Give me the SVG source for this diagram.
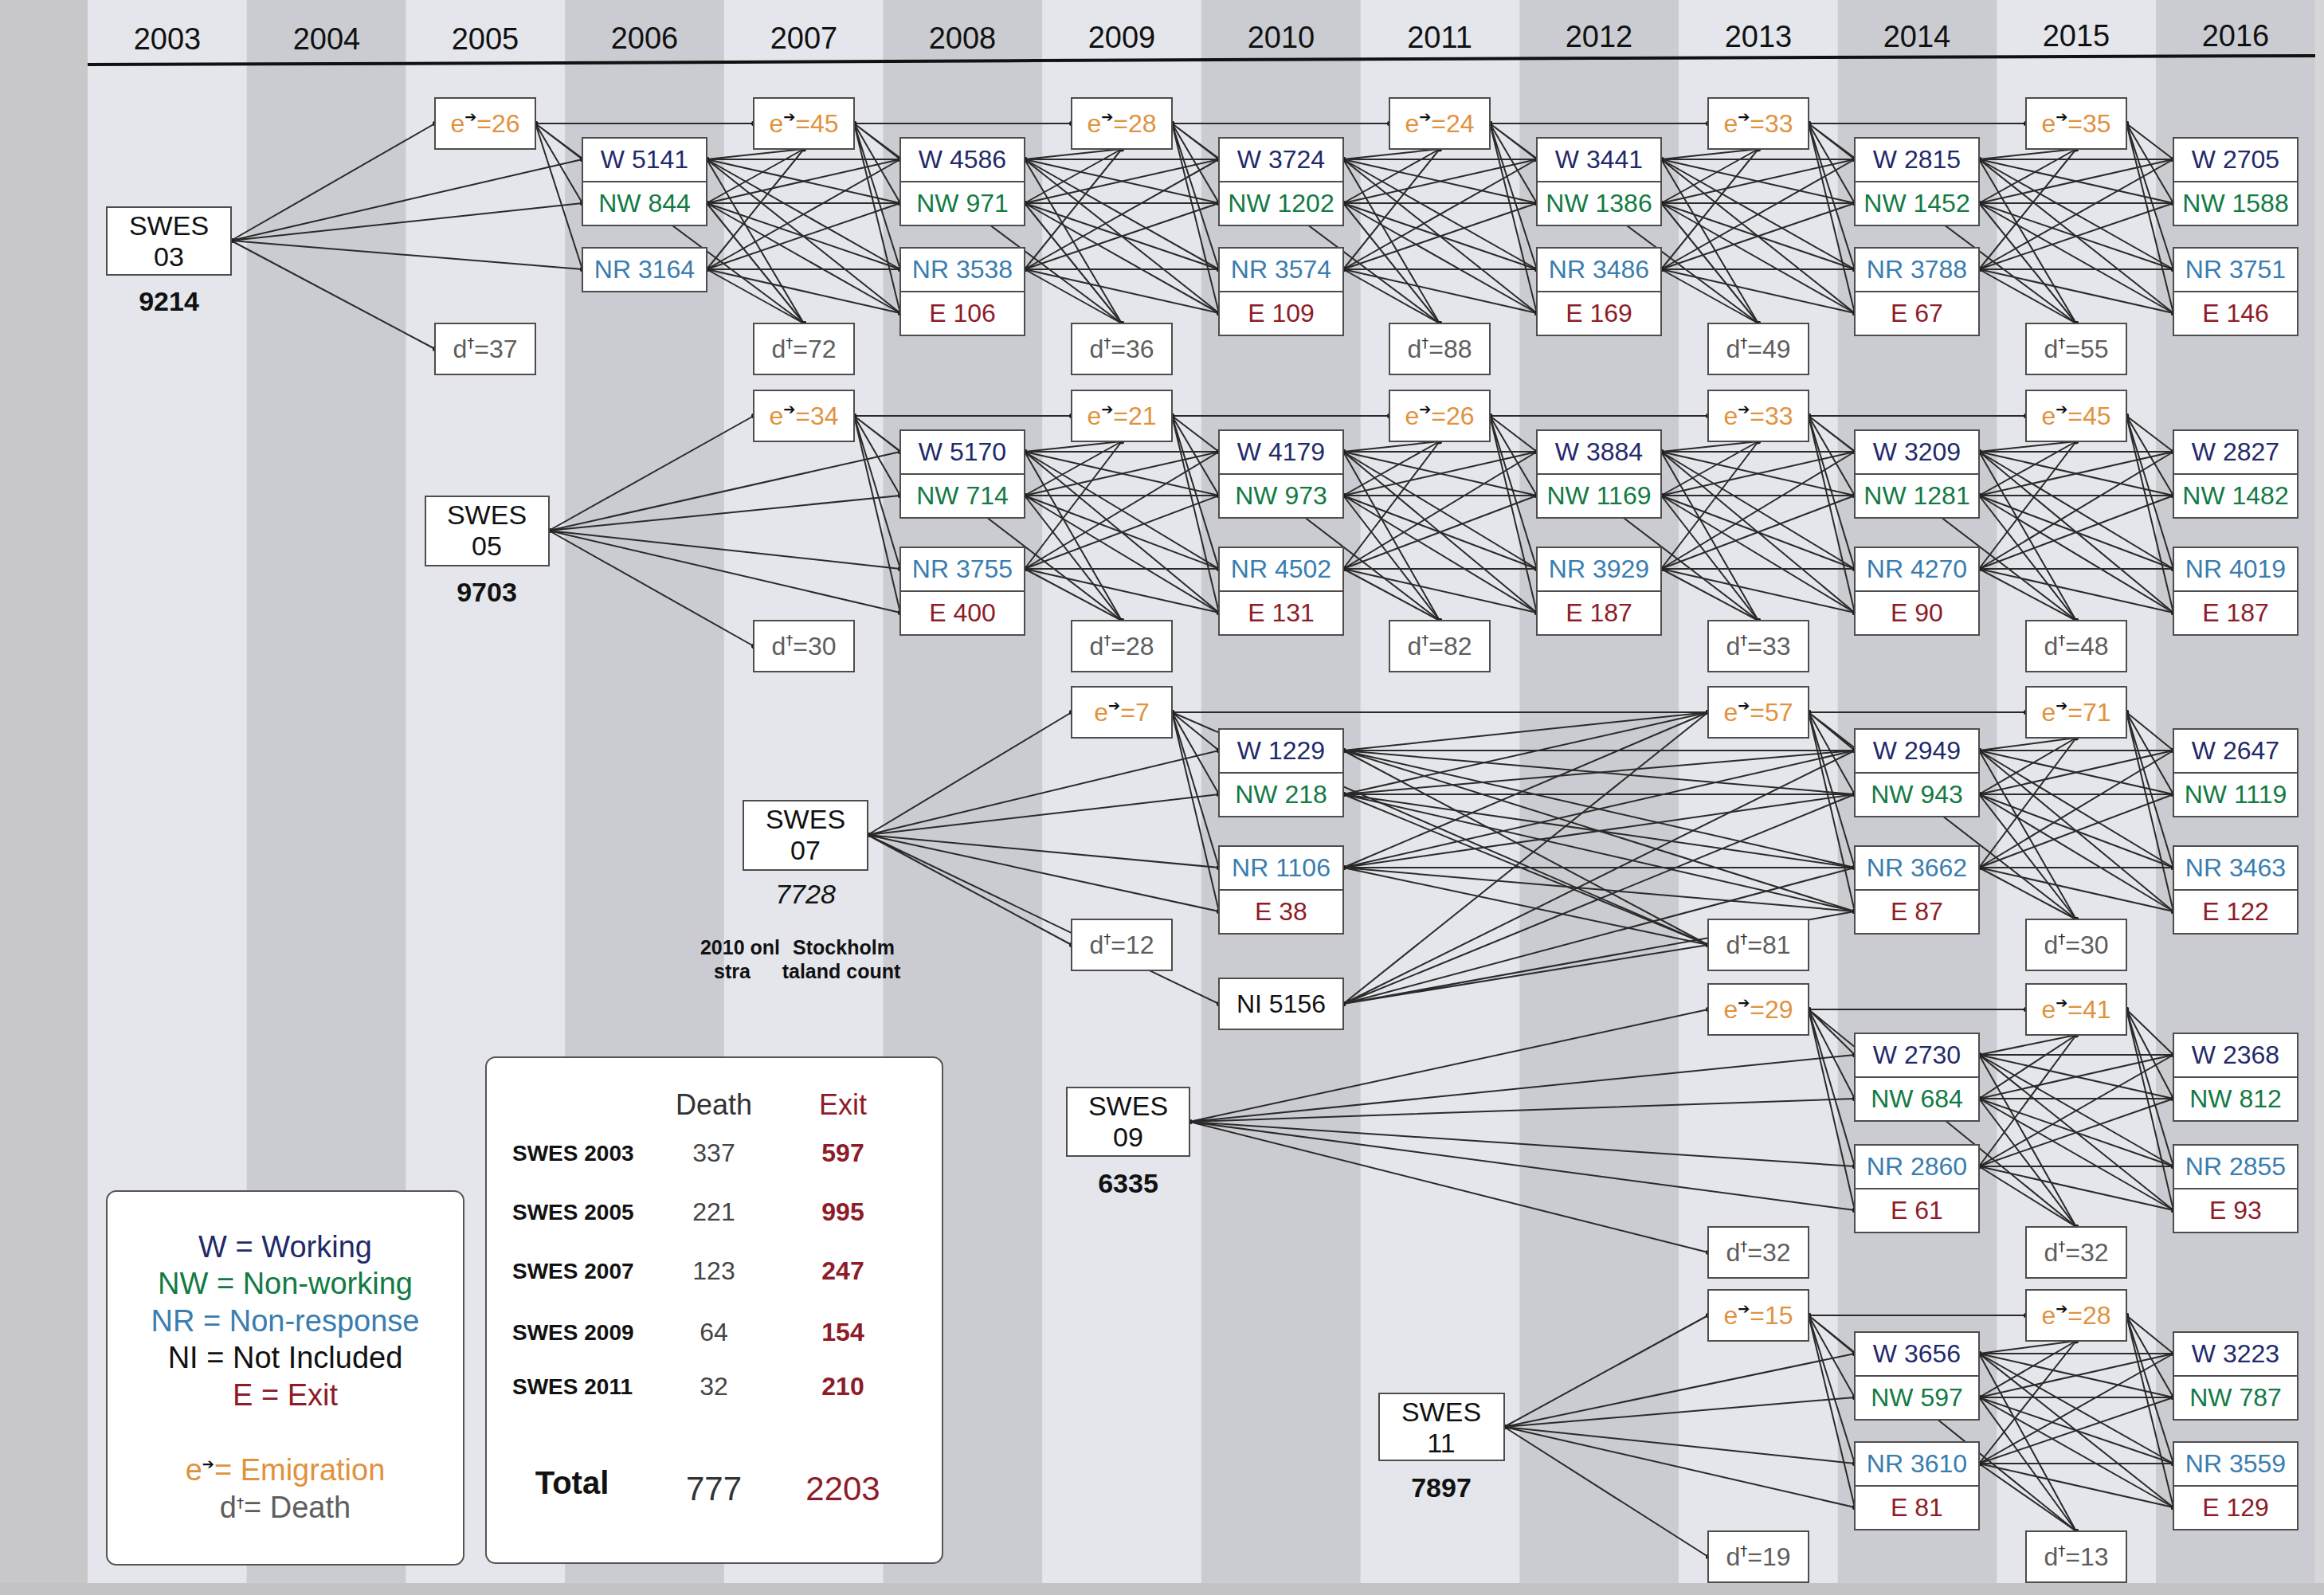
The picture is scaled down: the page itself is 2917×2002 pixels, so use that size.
<svg xmlns="http://www.w3.org/2000/svg" width="2917" height="2002" viewBox="0 0 2917 2002">
<defs>
<style>
.bgl{fill:#e4e6eb}.bgd{fill:#cbccd1}
.yr{font-family:"Liberation Sans",Arial,sans-serif;font-size:38px;fill:#111;text-anchor:middle}
.bx{fill:#fff;stroke:#4d4d4d;stroke-width:2}
.panel{fill:#fff;stroke:#555;stroke-width:2}
.t{font-family:"Liberation Sans",Arial,sans-serif;font-size:32px;text-anchor:middle}
.th{font-family:"Liberation Sans",Arial,sans-serif;font-size:36px;fill:#333;text-anchor:middle}
.tv{font-family:"Liberation Sans",Arial,sans-serif;font-size:42px;fill:#333;text-anchor:middle}
.w{fill:#1f2a6b}.nw{fill:#137a43}.nr{fill:#3a7db0}.ex{fill:#8e1c28}.em{fill:#e0923e}.de{fill:#5e5e5e}.ni{fill:#111}
.ar{font-family:"DejaVu Sans",sans-serif;font-size:18px;fill:#111}
.dg{font-family:"DejaVu Sans",sans-serif;font-size:18px;fill:#333}
.cn{fill:none;stroke:#2a2a2a;stroke-width:2;marker-start:url(#dot);marker-mid:url(#dot);marker-end:url(#dot)}
.sw{font-family:"Liberation Sans",Arial,sans-serif;font-size:34px;fill:#111;text-anchor:middle}
.sn{font-family:"Liberation Sans",Arial,sans-serif;font-size:34px;font-weight:bold;fill:#111;text-anchor:middle}
.note{font-family:"Liberation Sans",Arial,sans-serif;font-size:25px;font-weight:bold;fill:#111;text-anchor:middle}
.lg{font-family:"Liberation Sans",Arial,sans-serif;font-size:38px;text-anchor:middle}
.rl{font-family:"Liberation Sans",Arial,sans-serif;font-size:28px;font-weight:bold;fill:#111}
.dv{font-family:"Liberation Sans",Arial,sans-serif;font-size:32px;fill:#444;text-anchor:middle}
.xv{font-family:"Liberation Sans",Arial,sans-serif;font-size:32px;font-weight:bold;fill:#8e1c28;text-anchor:middle}
.tt{font-family:"Liberation Sans",Arial,sans-serif;font-size:40px;font-weight:bold;fill:#111;text-anchor:middle}
</style>
<marker id="dot" viewBox="0 0 10 10" refX="5" refY="5" markerWidth="7" markerHeight="7" markerUnits="userSpaceOnUse"><circle cx="5" cy="5" r="4.5" fill="#1e1e1e"/></marker>
</defs>

<g id="background">
<rect x="0" y="0" width="2917" height="2002" fill="#c8c8ca"/>
<rect class="bgl" x="110" y="0" width="2796" height="1987"/>
<rect class="bgd" x="309.7" y="0" width="199.7" height="1987"/>
<rect class="bgd" x="709.1" y="0" width="199.7" height="1987"/>
<rect class="bgd" x="1108.5" y="0" width="199.7" height="1987"/>
<rect class="bgd" x="1507.9" y="0" width="199.7" height="1987"/>
<rect class="bgd" x="1907.3" y="0" width="199.7" height="1987"/>
<rect class="bgd" x="2306.7" y="0" width="199.7" height="1987"/>
<rect class="bgd" x="2706.1" y="0" width="199.7" height="1987"/>
<rect x="2906" y="0" width="11" height="1987" fill="#d6d6d8"/>
</g>

<g id="header">
<text class="yr" x="210" y="62">2003</text>
<text class="yr" x="410" y="62">2004</text>
<text class="yr" x="609" y="62">2005</text>
<text class="yr" x="809" y="61">2006</text>
<text class="yr" x="1009" y="61">2007</text>
<text class="yr" x="1208" y="61">2008</text>
<text class="yr" x="1408" y="60">2009</text>
<text class="yr" x="1608" y="60">2010</text>
<text class="yr" x="1807" y="60">2011</text>
<text class="yr" x="2007" y="59">2012</text>
<text class="yr" x="2207" y="59">2013</text>
<text class="yr" x="2406" y="59">2014</text>
<text class="yr" x="2606" y="58">2015</text>
<text class="yr" x="2806" y="58">2016</text>
<polyline points="110,81 700,79 1300,76 2000,73 2906,70" fill="none" stroke="#111" stroke-width="4"/>
</g>

<g id="connectors">
<!-- cohort SWES 03 -->
<path class="cn" d="M290 302L546 155M290 302L731 200M290 302L731 255M290 302L731 338M290 302L546 438"/>
<path class="cn" d="M672 155L946 155M672 155L731 200M672 155L731 255M672 155L731 338M672 155L1009 406"/>
<path class="cn" d="M887 200L1009 187M887 200L1009 406M887 200L1130 200M887 200L1130 255M887 200L1130 338M887 200L1130 393"/>
<path class="cn" d="M887 255L1009 187M887 255L1009 406M887 255L1130 200M887 255L1130 255M887 255L1130 338M887 255L1130 393"/>
<path class="cn" d="M887 338L1009 187M887 338L1009 406M887 338L1130 200M887 338L1130 255M887 338L1130 338M887 338L1130 393"/>
<path class="cn" d="M1072 155L1345 155M1072 155L1130 200M1072 155L1130 255M1072 155L1130 338M1072 155L1130 393M1072 155L1408 406"/>
<path class="cn" d="M1286 200L1408 187M1286 200L1408 406M1286 200L1530 200M1286 200L1530 255M1286 200L1530 338M1286 200L1530 393"/>
<path class="cn" d="M1286 255L1408 187M1286 255L1408 406M1286 255L1530 200M1286 255L1530 255M1286 255L1530 338M1286 255L1530 393"/>
<path class="cn" d="M1286 338L1408 187M1286 338L1408 406M1286 338L1530 200M1286 338L1530 255M1286 338L1530 338M1286 338L1530 393"/>
<path class="cn" d="M1471 155L1744 155M1471 155L1530 200M1471 155L1530 255M1471 155L1530 338M1471 155L1530 393M1471 155L1807 406"/>
<path class="cn" d="M1686 200L1807 187M1686 200L1807 406M1686 200L1929 200M1686 200L1929 255M1686 200L1929 338M1686 200L1929 393"/>
<path class="cn" d="M1686 255L1807 187M1686 255L1807 406M1686 255L1929 200M1686 255L1929 255M1686 255L1929 338M1686 255L1929 393"/>
<path class="cn" d="M1686 338L1807 187M1686 338L1807 406M1686 338L1929 200M1686 338L1929 255M1686 338L1929 338M1686 338L1929 393"/>
<path class="cn" d="M1870 155L2144 155M1870 155L1929 200M1870 155L1929 255M1870 155L1929 338M1870 155L1929 393M1870 155L2207 406"/>
<path class="cn" d="M2085 200L2207 187M2085 200L2207 406M2085 200L2328 200M2085 200L2328 255M2085 200L2328 338M2085 200L2328 393"/>
<path class="cn" d="M2085 255L2207 187M2085 255L2207 406M2085 255L2328 200M2085 255L2328 255M2085 255L2328 338M2085 255L2328 393"/>
<path class="cn" d="M2085 338L2207 187M2085 338L2207 406M2085 338L2328 200M2085 338L2328 255M2085 338L2328 338M2085 338L2328 393"/>
<path class="cn" d="M2270 155L2543 155M2270 155L2328 200M2270 155L2328 255M2270 155L2328 338M2270 155L2328 393M2270 155L2606 406"/>
<path class="cn" d="M2484 200L2606 187M2484 200L2606 406M2484 200L2728 200M2484 200L2728 255M2484 200L2728 338M2484 200L2728 393"/>
<path class="cn" d="M2484 255L2606 187M2484 255L2606 406M2484 255L2728 200M2484 255L2728 255M2484 255L2728 338M2484 255L2728 393"/>
<path class="cn" d="M2484 338L2606 187M2484 338L2606 406M2484 338L2728 200M2484 338L2728 255M2484 338L2728 338M2484 338L2728 393"/>
<path class="cn" d="M2669 155L2728 200M2669 155L2728 255M2669 155L2728 338M2669 155L2728 393"/>
<!-- cohort SWES 05 -->
<path class="cn" d="M689 666L946 522M689 666L1130 567M689 666L1130 622M689 666L1130 714M689 666L1130 769M689 666L946 811"/>
<path class="cn" d="M1072 522L1345 522M1072 522L1130 567M1072 522L1130 622M1072 522L1130 714M1072 522L1130 769M1072 522L1408 779"/>
<path class="cn" d="M1286 567L1408 554M1286 567L1408 779M1286 567L1530 567M1286 567L1530 622M1286 567L1530 714M1286 567L1530 769"/>
<path class="cn" d="M1286 622L1408 554M1286 622L1408 779M1286 622L1530 567M1286 622L1530 622M1286 622L1530 714M1286 622L1530 769"/>
<path class="cn" d="M1286 714L1408 554M1286 714L1408 779M1286 714L1530 567M1286 714L1530 622M1286 714L1530 714M1286 714L1530 769"/>
<path class="cn" d="M1471 522L1744 522M1471 522L1530 567M1471 522L1530 622M1471 522L1530 714M1471 522L1530 769M1471 522L1807 779"/>
<path class="cn" d="M1686 567L1807 554M1686 567L1807 779M1686 567L1929 567M1686 567L1929 622M1686 567L1929 714M1686 567L1929 769"/>
<path class="cn" d="M1686 622L1807 554M1686 622L1807 779M1686 622L1929 567M1686 622L1929 622M1686 622L1929 714M1686 622L1929 769"/>
<path class="cn" d="M1686 714L1807 554M1686 714L1807 779M1686 714L1929 567M1686 714L1929 622M1686 714L1929 714M1686 714L1929 769"/>
<path class="cn" d="M1870 522L2144 522M1870 522L1929 567M1870 522L1929 622M1870 522L1929 714M1870 522L1929 769M1870 522L2207 779"/>
<path class="cn" d="M2085 567L2207 554M2085 567L2207 779M2085 567L2328 567M2085 567L2328 622M2085 567L2328 714M2085 567L2328 769"/>
<path class="cn" d="M2085 622L2207 554M2085 622L2207 779M2085 622L2328 567M2085 622L2328 622M2085 622L2328 714M2085 622L2328 769"/>
<path class="cn" d="M2085 714L2207 554M2085 714L2207 779M2085 714L2328 567M2085 714L2328 622M2085 714L2328 714M2085 714L2328 769"/>
<path class="cn" d="M2270 522L2543 522M2270 522L2328 567M2270 522L2328 622M2270 522L2328 714M2270 522L2328 769M2270 522L2606 779"/>
<path class="cn" d="M2484 567L2606 554M2484 567L2606 779M2484 567L2728 567M2484 567L2728 622M2484 567L2728 714M2484 567L2728 769"/>
<path class="cn" d="M2484 622L2606 554M2484 622L2606 779M2484 622L2728 567M2484 622L2728 622M2484 622L2728 714M2484 622L2728 769"/>
<path class="cn" d="M2484 714L2606 554M2484 714L2606 779M2484 714L2728 567M2484 714L2728 622M2484 714L2728 714M2484 714L2728 769"/>
<path class="cn" d="M2669 522L2728 567M2669 522L2728 622M2669 522L2728 714M2669 522L2728 769"/>
<!-- cohort SWES 07 -->
<path class="cn" d="M1089 1048L1345 894M1089 1048L1530 942M1089 1048L1530 997M1089 1048L1530 1089M1089 1048L1530 1144M1089 1048L1345 1186M1089 1048L1530 1260"/>
<path class="cn" d="M1471 894L2144 894M1471 894L1530 942M1471 894L1530 997M1471 894L1530 1089M1471 894L1530 1144M1471 894L2144 1186"/>
<path class="cn" d="M1686 942L2144 894M1686 942L2144 1186M1686 942L2328 942M1686 942L2328 997M1686 942L2328 1089M1686 942L2328 1144"/>
<path class="cn" d="M1686 997L2144 894M1686 997L2144 1186M1686 997L2328 942M1686 997L2328 997M1686 997L2328 1089M1686 997L2328 1144"/>
<path class="cn" d="M1686 1089L2144 894M1686 1089L2144 1186M1686 1089L2328 942M1686 1089L2328 997M1686 1089L2328 1089M1686 1089L2328 1144"/>
<path class="cn" d="M1686 1260L2144 894M1686 1260L2144 1186M1686 1260L2328 942M1686 1260L2328 997M1686 1260L2328 1089M1686 1260L2328 1144"/>
<path class="cn" d="M2270 894L2543 894M2270 894L2328 942M2270 894L2328 997M2270 894L2328 1089M2270 894L2328 1144M2270 894L2606 1154"/>
<path class="cn" d="M2484 942L2606 926M2484 942L2606 1154M2484 942L2728 942M2484 942L2728 997M2484 942L2728 1089M2484 942L2728 1144"/>
<path class="cn" d="M2484 997L2606 926M2484 997L2606 1154M2484 997L2728 942M2484 997L2728 997M2484 997L2728 1089M2484 997L2728 1144"/>
<path class="cn" d="M2484 1089L2606 926M2484 1089L2606 1154M2484 1089L2728 942M2484 1089L2728 997M2484 1089L2728 1089M2484 1089L2728 1144"/>
<path class="cn" d="M2669 894L2728 942M2669 894L2728 997M2669 894L2728 1089M2669 894L2728 1144"/>
<!-- cohort SWES 09 -->
<path class="cn" d="M1493 1408L2144 1267M1493 1408L2328 1324M1493 1408L2328 1379M1493 1408L2328 1464M1493 1408L2328 1519M1493 1408L2144 1572"/>
<path class="cn" d="M2270 1267L2543 1267M2270 1267L2328 1324M2270 1267L2328 1379M2270 1267L2328 1464M2270 1267L2328 1519M2270 1267L2606 1540"/>
<path class="cn" d="M2484 1324L2606 1299M2484 1324L2606 1540M2484 1324L2728 1324M2484 1324L2728 1379M2484 1324L2728 1464M2484 1324L2728 1519"/>
<path class="cn" d="M2484 1379L2606 1299M2484 1379L2606 1540M2484 1379L2728 1324M2484 1379L2728 1379M2484 1379L2728 1464M2484 1379L2728 1519"/>
<path class="cn" d="M2484 1464L2606 1299M2484 1464L2606 1540M2484 1464L2728 1324M2484 1464L2728 1379M2484 1464L2728 1464M2484 1464L2728 1519"/>
<path class="cn" d="M2669 1267L2728 1324M2669 1267L2728 1379M2669 1267L2728 1464M2669 1267L2728 1519"/>
<!-- cohort SWES 11 -->
<path class="cn" d="M1888 1791L2144 1651M1888 1791L2328 1699M1888 1791L2328 1754M1888 1791L2328 1837M1888 1791L2328 1892M1888 1791L2144 1954"/>
<path class="cn" d="M2270 1651L2543 1651M2270 1651L2328 1699M2270 1651L2328 1754M2270 1651L2328 1837M2270 1651L2328 1892M2270 1651L2606 1922"/>
<path class="cn" d="M2484 1699L2606 1683M2484 1699L2606 1922M2484 1699L2728 1699M2484 1699L2728 1754M2484 1699L2728 1837M2484 1699L2728 1892"/>
<path class="cn" d="M2484 1754L2606 1683M2484 1754L2606 1922M2484 1754L2728 1699M2484 1754L2728 1754M2484 1754L2728 1837M2484 1754L2728 1892"/>
<path class="cn" d="M2484 1837L2606 1683M2484 1837L2606 1922M2484 1837L2728 1699M2484 1837L2728 1754M2484 1837L2728 1837M2484 1837L2728 1892"/>
<path class="cn" d="M2669 1651L2728 1699M2669 1651L2728 1754M2669 1651L2728 1837M2669 1651L2728 1892"/>
</g>

<!-- SWES source nodes -->
<g id="swes03"><rect class="bx" x="134" y="260" width="156" height="85"/><text class="sw" x="212" y="295">SWES</text><text class="sw" x="212" y="334">03</text><text class="sn" x="212" y="390">9214</text></g>
<g id="swes05"><rect class="bx" x="534" y="623" width="155" height="87"/><text class="sw" x="611" y="658">SWES</text><text class="sw" x="611" y="697">05</text><text class="sn" x="611" y="755">9703</text></g>
<g id="swes07"><rect class="bx" x="933" y="1005" width="156" height="87"/><text class="sw" x="1011" y="1040">SWES</text><text class="sw" x="1011" y="1079">07</text><text class="sw" x="1011" y="1134" font-style="italic">7728</text>
<text class="note" x="929" y="1198">2010 onl</text><text class="note" x="1059" y="1198">Stockholm</text><text class="note" x="919" y="1228">stra</text><text class="note" x="1056" y="1228">taland count</text></g>
<g id="swes09"><rect class="bx" x="1339" y="1365" width="154" height="86"/><text class="sw" x="1416" y="1400">SWES</text><text class="sw" x="1416" y="1439">09</text><text class="sn" x="1416" y="1497">6335</text></g>
<g id="swes11"><rect class="bx" x="1731" y="1749" width="157" height="84"/><text class="sw" x="1809" y="1784">SWES</text><text class="sw" x="1809" y="1823">11</text><text class="sn" x="1809" y="1879">7897</text></g>

<!-- Cohort 1 nodes -->
<g id="c1-e2005"><rect class="bx" x="546" y="123" width="126" height="64"/><text class="t em" x="609" y="166">e<tspan class="ar" dy="-13">➔</tspan><tspan dy="13">=26</tspan></text></g>
<g id="c1-d2005"><rect class="bx" x="546" y="406" width="126" height="64"/><text class="t de" x="609" y="449">d<tspan class="dg" dy="-12">†</tspan><tspan dy="12">=37</tspan></text></g>
<g id="c1-W2006"><rect class="bx" x="731" y="173" width="156" height="55"/><text class="t w" x="809" y="211">W 5141</text></g>
<g id="c1-NW2006"><rect class="bx" x="731" y="228" width="156" height="55"/><text class="t nw" x="809" y="266">NW 844</text></g>
<g id="c1-NR2006"><rect class="bx" x="731" y="311" width="156" height="55"/><text class="t nr" x="809" y="349">NR 3164</text></g>
<g id="c1-e2007"><rect class="bx" x="946" y="123" width="126" height="64"/><text class="t em" x="1009" y="166">e<tspan class="ar" dy="-13">➔</tspan><tspan dy="13">=45</tspan></text></g>
<g id="c1-d2007"><rect class="bx" x="946" y="406" width="126" height="64"/><text class="t de" x="1009" y="449">d<tspan class="dg" dy="-12">†</tspan><tspan dy="12">=72</tspan></text></g>
<g id="c1-W2008"><rect class="bx" x="1130" y="173" width="156" height="55"/><text class="t w" x="1208" y="211">W 4586</text></g>
<g id="c1-NW2008"><rect class="bx" x="1130" y="228" width="156" height="55"/><text class="t nw" x="1208" y="266">NW 971</text></g>
<g id="c1-NR2008"><rect class="bx" x="1130" y="311" width="156" height="55"/><text class="t nr" x="1208" y="349">NR 3538</text></g>
<g id="c1-E2008"><rect class="bx" x="1130" y="366" width="156" height="55"/><text class="t ex" x="1208" y="404">E 106</text></g>
<g id="c1-e2009"><rect class="bx" x="1345" y="123" width="126" height="64"/><text class="t em" x="1408" y="166">e<tspan class="ar" dy="-13">➔</tspan><tspan dy="13">=28</tspan></text></g>
<g id="c1-d2009"><rect class="bx" x="1345" y="406" width="126" height="64"/><text class="t de" x="1408" y="449">d<tspan class="dg" dy="-12">†</tspan><tspan dy="12">=36</tspan></text></g>
<g id="c1-W2010"><rect class="bx" x="1530" y="173" width="156" height="55"/><text class="t w" x="1608" y="211">W 3724</text></g>
<g id="c1-NW2010"><rect class="bx" x="1530" y="228" width="156" height="55"/><text class="t nw" x="1608" y="266">NW 1202</text></g>
<g id="c1-NR2010"><rect class="bx" x="1530" y="311" width="156" height="55"/><text class="t nr" x="1608" y="349">NR 3574</text></g>
<g id="c1-E2010"><rect class="bx" x="1530" y="366" width="156" height="55"/><text class="t ex" x="1608" y="404">E 109</text></g>
<g id="c1-e2011"><rect class="bx" x="1744" y="123" width="126" height="64"/><text class="t em" x="1807" y="166">e<tspan class="ar" dy="-13">➔</tspan><tspan dy="13">=24</tspan></text></g>
<g id="c1-d2011"><rect class="bx" x="1744" y="406" width="126" height="64"/><text class="t de" x="1807" y="449">d<tspan class="dg" dy="-12">†</tspan><tspan dy="12">=88</tspan></text></g>
<g id="c1-W2012"><rect class="bx" x="1929" y="173" width="156" height="55"/><text class="t w" x="2007" y="211">W 3441</text></g>
<g id="c1-NW2012"><rect class="bx" x="1929" y="228" width="156" height="55"/><text class="t nw" x="2007" y="266">NW 1386</text></g>
<g id="c1-NR2012"><rect class="bx" x="1929" y="311" width="156" height="55"/><text class="t nr" x="2007" y="349">NR 3486</text></g>
<g id="c1-E2012"><rect class="bx" x="1929" y="366" width="156" height="55"/><text class="t ex" x="2007" y="404">E 169</text></g>
<g id="c1-e2013"><rect class="bx" x="2144" y="123" width="126" height="64"/><text class="t em" x="2207" y="166">e<tspan class="ar" dy="-13">➔</tspan><tspan dy="13">=33</tspan></text></g>
<g id="c1-d2013"><rect class="bx" x="2144" y="406" width="126" height="64"/><text class="t de" x="2207" y="449">d<tspan class="dg" dy="-12">†</tspan><tspan dy="12">=49</tspan></text></g>
<g id="c1-W2014"><rect class="bx" x="2328" y="173" width="156" height="55"/><text class="t w" x="2406" y="211">W 2815</text></g>
<g id="c1-NW2014"><rect class="bx" x="2328" y="228" width="156" height="55"/><text class="t nw" x="2406" y="266">NW 1452</text></g>
<g id="c1-NR2014"><rect class="bx" x="2328" y="311" width="156" height="55"/><text class="t nr" x="2406" y="349">NR 3788</text></g>
<g id="c1-E2014"><rect class="bx" x="2328" y="366" width="156" height="55"/><text class="t ex" x="2406" y="404">E 67</text></g>
<g id="c1-e2015"><rect class="bx" x="2543" y="123" width="126" height="64"/><text class="t em" x="2606" y="166">e<tspan class="ar" dy="-13">➔</tspan><tspan dy="13">=35</tspan></text></g>
<g id="c1-d2015"><rect class="bx" x="2543" y="406" width="126" height="64"/><text class="t de" x="2606" y="449">d<tspan class="dg" dy="-12">†</tspan><tspan dy="12">=55</tspan></text></g>
<g id="c1-W2016"><rect class="bx" x="2728" y="173" width="156" height="55"/><text class="t w" x="2806" y="211">W 2705</text></g>
<g id="c1-NW2016"><rect class="bx" x="2728" y="228" width="156" height="55"/><text class="t nw" x="2806" y="266">NW 1588</text></g>
<g id="c1-NR2016"><rect class="bx" x="2728" y="311" width="156" height="55"/><text class="t nr" x="2806" y="349">NR 3751</text></g>
<g id="c1-E2016"><rect class="bx" x="2728" y="366" width="156" height="55"/><text class="t ex" x="2806" y="404">E 146</text></g>

<!-- Cohort 2 nodes -->
<g id="c2-e2007"><rect class="bx" x="946" y="490" width="126" height="64"/><text class="t em" x="1009" y="533">e<tspan class="ar" dy="-13">➔</tspan><tspan dy="13">=34</tspan></text></g>
<g id="c2-d2007"><rect class="bx" x="946" y="779" width="126" height="64"/><text class="t de" x="1009" y="822">d<tspan class="dg" dy="-12">†</tspan><tspan dy="12">=30</tspan></text></g>
<g id="c2-W2008"><rect class="bx" x="1130" y="540" width="156" height="55"/><text class="t w" x="1208" y="578">W 5170</text></g>
<g id="c2-NW2008"><rect class="bx" x="1130" y="595" width="156" height="55"/><text class="t nw" x="1208" y="633">NW 714</text></g>
<g id="c2-NR2008"><rect class="bx" x="1130" y="687" width="156" height="55"/><text class="t nr" x="1208" y="725">NR 3755</text></g>
<g id="c2-E2008"><rect class="bx" x="1130" y="742" width="156" height="55"/><text class="t ex" x="1208" y="780">E 400</text></g>
<g id="c2-e2009"><rect class="bx" x="1345" y="490" width="126" height="64"/><text class="t em" x="1408" y="533">e<tspan class="ar" dy="-13">➔</tspan><tspan dy="13">=21</tspan></text></g>
<g id="c2-d2009"><rect class="bx" x="1345" y="779" width="126" height="64"/><text class="t de" x="1408" y="822">d<tspan class="dg" dy="-12">†</tspan><tspan dy="12">=28</tspan></text></g>
<g id="c2-W2010"><rect class="bx" x="1530" y="540" width="156" height="55"/><text class="t w" x="1608" y="578">W 4179</text></g>
<g id="c2-NW2010"><rect class="bx" x="1530" y="595" width="156" height="55"/><text class="t nw" x="1608" y="633">NW 973</text></g>
<g id="c2-NR2010"><rect class="bx" x="1530" y="687" width="156" height="55"/><text class="t nr" x="1608" y="725">NR 4502</text></g>
<g id="c2-E2010"><rect class="bx" x="1530" y="742" width="156" height="55"/><text class="t ex" x="1608" y="780">E 131</text></g>
<g id="c2-e2011"><rect class="bx" x="1744" y="490" width="126" height="64"/><text class="t em" x="1807" y="533">e<tspan class="ar" dy="-13">➔</tspan><tspan dy="13">=26</tspan></text></g>
<g id="c2-d2011"><rect class="bx" x="1744" y="779" width="126" height="64"/><text class="t de" x="1807" y="822">d<tspan class="dg" dy="-12">†</tspan><tspan dy="12">=82</tspan></text></g>
<g id="c2-W2012"><rect class="bx" x="1929" y="540" width="156" height="55"/><text class="t w" x="2007" y="578">W 3884</text></g>
<g id="c2-NW2012"><rect class="bx" x="1929" y="595" width="156" height="55"/><text class="t nw" x="2007" y="633">NW 1169</text></g>
<g id="c2-NR2012"><rect class="bx" x="1929" y="687" width="156" height="55"/><text class="t nr" x="2007" y="725">NR 3929</text></g>
<g id="c2-E2012"><rect class="bx" x="1929" y="742" width="156" height="55"/><text class="t ex" x="2007" y="780">E 187</text></g>
<g id="c2-e2013"><rect class="bx" x="2144" y="490" width="126" height="64"/><text class="t em" x="2207" y="533">e<tspan class="ar" dy="-13">➔</tspan><tspan dy="13">=33</tspan></text></g>
<g id="c2-d2013"><rect class="bx" x="2144" y="779" width="126" height="64"/><text class="t de" x="2207" y="822">d<tspan class="dg" dy="-12">†</tspan><tspan dy="12">=33</tspan></text></g>
<g id="c2-W2014"><rect class="bx" x="2328" y="540" width="156" height="55"/><text class="t w" x="2406" y="578">W 3209</text></g>
<g id="c2-NW2014"><rect class="bx" x="2328" y="595" width="156" height="55"/><text class="t nw" x="2406" y="633">NW 1281</text></g>
<g id="c2-NR2014"><rect class="bx" x="2328" y="687" width="156" height="55"/><text class="t nr" x="2406" y="725">NR 4270</text></g>
<g id="c2-E2014"><rect class="bx" x="2328" y="742" width="156" height="55"/><text class="t ex" x="2406" y="780">E 90</text></g>
<g id="c2-e2015"><rect class="bx" x="2543" y="490" width="126" height="64"/><text class="t em" x="2606" y="533">e<tspan class="ar" dy="-13">➔</tspan><tspan dy="13">=45</tspan></text></g>
<g id="c2-d2015"><rect class="bx" x="2543" y="779" width="126" height="64"/><text class="t de" x="2606" y="822">d<tspan class="dg" dy="-12">†</tspan><tspan dy="12">=48</tspan></text></g>
<g id="c2-W2016"><rect class="bx" x="2728" y="540" width="156" height="55"/><text class="t w" x="2806" y="578">W 2827</text></g>
<g id="c2-NW2016"><rect class="bx" x="2728" y="595" width="156" height="55"/><text class="t nw" x="2806" y="633">NW 1482</text></g>
<g id="c2-NR2016"><rect class="bx" x="2728" y="687" width="156" height="55"/><text class="t nr" x="2806" y="725">NR 4019</text></g>
<g id="c2-E2016"><rect class="bx" x="2728" y="742" width="156" height="55"/><text class="t ex" x="2806" y="780">E 187</text></g>

<!-- Cohort 3 nodes -->
<g id="c3-e2009"><rect class="bx" x="1345" y="862" width="126" height="64"/><text class="t em" x="1408" y="905">e<tspan class="ar" dy="-13">➔</tspan><tspan dy="13">=7</tspan></text></g>
<g id="c3-d2009"><rect class="bx" x="1345" y="1154" width="126" height="64"/><text class="t de" x="1408" y="1197">d<tspan class="dg" dy="-12">†</tspan><tspan dy="12">=12</tspan></text></g>
<g id="c3-W2010"><rect class="bx" x="1530" y="915" width="156" height="55"/><text class="t w" x="1608" y="953">W 1229</text></g>
<g id="c3-NW2010"><rect class="bx" x="1530" y="970" width="156" height="55"/><text class="t nw" x="1608" y="1008">NW 218</text></g>
<g id="c3-NR2010"><rect class="bx" x="1530" y="1062" width="156" height="55"/><text class="t nr" x="1608" y="1100">NR 1106</text></g>
<g id="c3-E2010"><rect class="bx" x="1530" y="1117" width="156" height="55"/><text class="t ex" x="1608" y="1155">E 38</text></g>
<g id="c3-NI2010"><rect class="bx" x="1530" y="1228" width="156" height="64"/><text class="t ni" x="1608" y="1271">NI 5156</text></g>
<g id="c3-e2013"><rect class="bx" x="2144" y="862" width="126" height="64"/><text class="t em" x="2207" y="905">e<tspan class="ar" dy="-13">➔</tspan><tspan dy="13">=57</tspan></text></g>
<g id="c3-d2013"><rect class="bx" x="2144" y="1154" width="126" height="64"/><text class="t de" x="2207" y="1197">d<tspan class="dg" dy="-12">†</tspan><tspan dy="12">=81</tspan></text></g>
<g id="c3-W2014"><rect class="bx" x="2328" y="915" width="156" height="55"/><text class="t w" x="2406" y="953">W 2949</text></g>
<g id="c3-NW2014"><rect class="bx" x="2328" y="970" width="156" height="55"/><text class="t nw" x="2406" y="1008">NW 943</text></g>
<g id="c3-NR2014"><rect class="bx" x="2328" y="1062" width="156" height="55"/><text class="t nr" x="2406" y="1100">NR 3662</text></g>
<g id="c3-E2014"><rect class="bx" x="2328" y="1117" width="156" height="55"/><text class="t ex" x="2406" y="1155">E 87</text></g>
<g id="c3-e2015"><rect class="bx" x="2543" y="862" width="126" height="64"/><text class="t em" x="2606" y="905">e<tspan class="ar" dy="-13">➔</tspan><tspan dy="13">=71</tspan></text></g>
<g id="c3-d2015"><rect class="bx" x="2543" y="1154" width="126" height="64"/><text class="t de" x="2606" y="1197">d<tspan class="dg" dy="-12">†</tspan><tspan dy="12">=30</tspan></text></g>
<g id="c3-W2016"><rect class="bx" x="2728" y="915" width="156" height="55"/><text class="t w" x="2806" y="953">W 2647</text></g>
<g id="c3-NW2016"><rect class="bx" x="2728" y="970" width="156" height="55"/><text class="t nw" x="2806" y="1008">NW 1119</text></g>
<g id="c3-NR2016"><rect class="bx" x="2728" y="1062" width="156" height="55"/><text class="t nr" x="2806" y="1100">NR 3463</text></g>
<g id="c3-E2016"><rect class="bx" x="2728" y="1117" width="156" height="55"/><text class="t ex" x="2806" y="1155">E 122</text></g>

<!-- Cohort 4 nodes -->
<g id="c4-e2013"><rect class="bx" x="2144" y="1235" width="126" height="64"/><text class="t em" x="2207" y="1278">e<tspan class="ar" dy="-13">➔</tspan><tspan dy="13">=29</tspan></text></g>
<g id="c4-d2013"><rect class="bx" x="2144" y="1540" width="126" height="64"/><text class="t de" x="2207" y="1583">d<tspan class="dg" dy="-12">†</tspan><tspan dy="12">=32</tspan></text></g>
<g id="c4-W2014"><rect class="bx" x="2328" y="1297" width="156" height="55"/><text class="t w" x="2406" y="1335">W 2730</text></g>
<g id="c4-NW2014"><rect class="bx" x="2328" y="1352" width="156" height="55"/><text class="t nw" x="2406" y="1390">NW 684</text></g>
<g id="c4-NR2014"><rect class="bx" x="2328" y="1437" width="156" height="55"/><text class="t nr" x="2406" y="1475">NR 2860</text></g>
<g id="c4-E2014"><rect class="bx" x="2328" y="1492" width="156" height="55"/><text class="t ex" x="2406" y="1530">E 61</text></g>
<g id="c4-e2015"><rect class="bx" x="2543" y="1235" width="126" height="64"/><text class="t em" x="2606" y="1278">e<tspan class="ar" dy="-13">➔</tspan><tspan dy="13">=41</tspan></text></g>
<g id="c4-d2015"><rect class="bx" x="2543" y="1540" width="126" height="64"/><text class="t de" x="2606" y="1583">d<tspan class="dg" dy="-12">†</tspan><tspan dy="12">=32</tspan></text></g>
<g id="c4-W2016"><rect class="bx" x="2728" y="1297" width="156" height="55"/><text class="t w" x="2806" y="1335">W 2368</text></g>
<g id="c4-NW2016"><rect class="bx" x="2728" y="1352" width="156" height="55"/><text class="t nw" x="2806" y="1390">NW 812</text></g>
<g id="c4-NR2016"><rect class="bx" x="2728" y="1437" width="156" height="55"/><text class="t nr" x="2806" y="1475">NR 2855</text></g>
<g id="c4-E2016"><rect class="bx" x="2728" y="1492" width="156" height="55"/><text class="t ex" x="2806" y="1530">E 93</text></g>

<!-- Cohort 5 nodes -->
<g id="c5-e2013"><rect class="bx" x="2144" y="1619" width="126" height="64"/><text class="t em" x="2207" y="1662">e<tspan class="ar" dy="-13">➔</tspan><tspan dy="13">=15</tspan></text></g>
<g id="c5-d2013"><rect class="bx" x="2144" y="1922" width="126" height="64"/><text class="t de" x="2207" y="1965">d<tspan class="dg" dy="-12">†</tspan><tspan dy="12">=19</tspan></text></g>
<g id="c5-W2014"><rect class="bx" x="2328" y="1672" width="156" height="55"/><text class="t w" x="2406" y="1710">W 3656</text></g>
<g id="c5-NW2014"><rect class="bx" x="2328" y="1727" width="156" height="55"/><text class="t nw" x="2406" y="1765">NW 597</text></g>
<g id="c5-NR2014"><rect class="bx" x="2328" y="1810" width="156" height="55"/><text class="t nr" x="2406" y="1848">NR 3610</text></g>
<g id="c5-E2014"><rect class="bx" x="2328" y="1865" width="156" height="55"/><text class="t ex" x="2406" y="1903">E 81</text></g>
<g id="c5-e2015"><rect class="bx" x="2543" y="1619" width="126" height="64"/><text class="t em" x="2606" y="1662">e<tspan class="ar" dy="-13">➔</tspan><tspan dy="13">=28</tspan></text></g>
<g id="c5-d2015"><rect class="bx" x="2543" y="1922" width="126" height="64"/><text class="t de" x="2606" y="1965">d<tspan class="dg" dy="-12">†</tspan><tspan dy="12">=13</tspan></text></g>
<g id="c5-W2016"><rect class="bx" x="2728" y="1672" width="156" height="55"/><text class="t w" x="2806" y="1710">W 3223</text></g>
<g id="c5-NW2016"><rect class="bx" x="2728" y="1727" width="156" height="55"/><text class="t nw" x="2806" y="1765">NW 787</text></g>
<g id="c5-NR2016"><rect class="bx" x="2728" y="1810" width="156" height="55"/><text class="t nr" x="2806" y="1848">NR 3559</text></g>
<g id="c5-E2016"><rect class="bx" x="2728" y="1865" width="156" height="55"/><text class="t ex" x="2806" y="1903">E 129</text></g>

<!-- Legend -->
<g id="legend">
<rect class="panel" x="134" y="1495" width="448" height="469" rx="12"/>
<text class="lg w" x="358" y="1578">W = Working</text>
<text class="lg nw" x="358" y="1624">NW = Non-working</text>
<text class="lg nr" x="358" y="1671">NR = Non-response</text>
<text class="lg ni" x="358" y="1717">NI = Not Included</text>
<text class="lg ex" x="358" y="1764">E = Exit</text>
<text class="lg em" x="358" y="1858">e<tspan class="ar" dy="-14">➔</tspan><tspan dy="14">= Emigration</tspan></text>
<text class="lg de" x="358" y="1905">d<tspan class="dg" dy="-12">†</tspan><tspan dy="12">= Death</tspan></text>
</g>

<!-- Summary table -->
<g id="table">
<rect class="panel" x="610" y="1327" width="573" height="635" rx="12"/>
<text class="th" x="896" y="1399">Death</text>
<text class="th ex" x="1058" y="1399">Exit</text>
<text class="rl" x="643" y="1457">SWES 2003</text><text class="dv" x="896" y="1458">337</text><text class="xv" x="1058" y="1458">597</text>
<text class="rl" x="643" y="1531">SWES 2005</text><text class="dv" x="896" y="1532">221</text><text class="xv" x="1058" y="1532">995</text>
<text class="rl" x="643" y="1605">SWES 2007</text><text class="dv" x="896" y="1606">123</text><text class="xv" x="1058" y="1606">247</text>
<text class="rl" x="643" y="1682">SWES 2009</text><text class="dv" x="896" y="1683">64</text><text class="xv" x="1058" y="1683">154</text>
<text class="rl" x="643" y="1750">SWES 2011</text><text class="dv" x="896" y="1751">32</text><text class="xv" x="1058" y="1751">210</text>
<text class="tt" x="718" y="1875">Total</text>
<text class="tv" x="896" y="1883">777</text>
<text class="tv ex" x="1058" y="1883">2203</text>
</g>

<rect id="bottom-band" x="0" y="1987" width="2917" height="15" fill="#c4c4c6"/>
</svg>
